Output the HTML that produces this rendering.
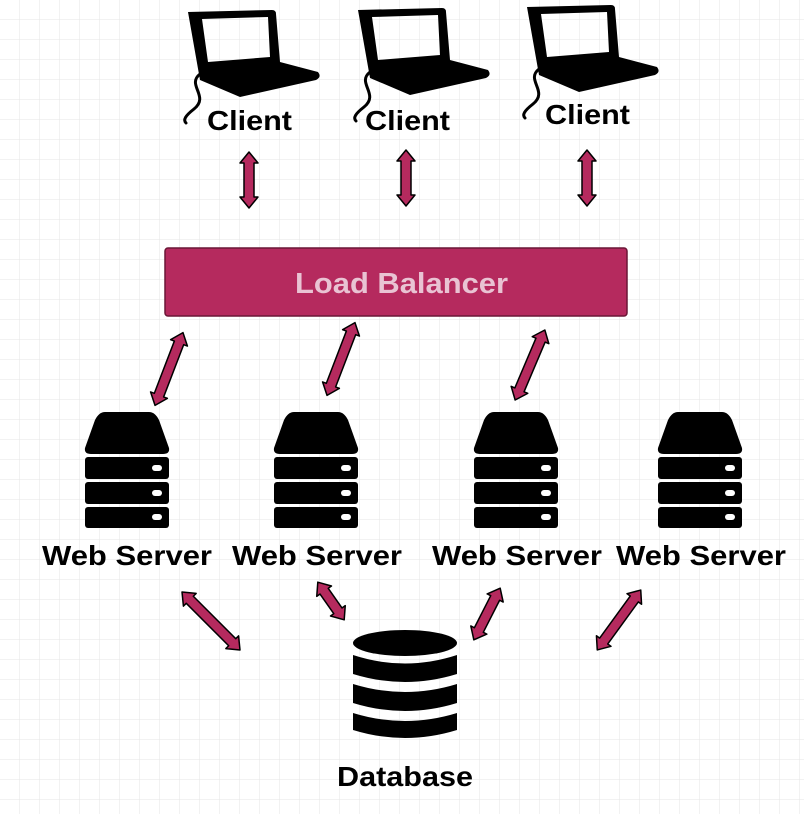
<!DOCTYPE html>
<html><head><meta charset="utf-8"><style>
html,body{margin:0;padding:0;background:#fff}
svg{display:block}
text{font-family:"Liberation Sans",sans-serif;font-weight:bold}
</style></head><body>
<svg width="804" height="814" viewBox="0 0 804 814" xmlns="http://www.w3.org/2000/svg">
<defs>
<pattern id="g" width="20" height="20" patternUnits="userSpaceOnUse">
<path d="M20 0V20M0 20H20" stroke="#e6e6e6" stroke-width="1" fill="none"/>
</pattern>
<g id="lap">
<path fill-rule="evenodd" fill="#000" d="M0,2 L84,0 Q88,0 88,4 L92,52 L130,62 Q134,67 128,70 L52,87 L12,70 Z M14,9 L80,7 L82,47 L20,52 Z"/>
<path d="M12,64 C-2,75 22,86 6,99 C-3,106 -5,110 -2,113" stroke="#000" stroke-width="3" fill="none" stroke-linecap="round"/>
</g>
<g id="srv">
<path fill="#000" d="M20,0 L64,0 Q70,0 74,8 L84,36 Q85,42 78,42 L6,42 Q-1,42 0,36 L10,8 Q14,0 20,0Z"/>
<rect x="0" y="45" width="84" height="22" rx="3" fill="#000"/>
<rect x="0" y="70" width="84" height="22" rx="3" fill="#000"/>
<rect x="0" y="95" width="84" height="21" rx="3" fill="#000"/>
<rect x="67" y="53" width="10" height="6" rx="3" fill="#fff"/>
<rect x="67" y="78" width="10" height="6" rx="3" fill="#fff"/>
<rect x="67" y="102" width="10" height="6" rx="3" fill="#fff"/>
</g>
</defs>
<rect width="804" height="814" fill="url(#g)"/>

<use href="#lap" x="188" y="10"/>
<use href="#lap" x="358" y="8"/>
<use href="#lap" x="527" y="5"/>
<text x="207" y="130" font-size="28" textLength="85" lengthAdjust="spacingAndGlyphs">Client</text>
<text x="365" y="130" font-size="28" textLength="85" lengthAdjust="spacingAndGlyphs">Client</text>
<text x="545" y="124" font-size="28" textLength="85" lengthAdjust="spacingAndGlyphs">Client</text>

<g fill="#b52a5e" stroke="#000" stroke-width="1.5" stroke-linejoin="round">
<path transform="translate(249,180) rotate(90)" d="M-28,0 L-17,-9 L-17,-5 L17,-5 L17,-9 L28,0 L17,9 L17,5 L-17,5 L-17,9Z"/>
<path transform="translate(406,178) rotate(90)" d="M-28,0 L-17,-9 L-17,-5 L17,-5 L17,-9 L28,0 L17,9 L17,5 L-17,5 L-17,9Z"/>
<path transform="translate(587,178) rotate(90)" d="M-28,0 L-17,-9 L-17,-5 L17,-5 L17,-9 L28,0 L17,9 L17,5 L-17,5 L-17,9Z"/>
<path transform="translate(169,369) rotate(111)" d="M-39,0 L-28,-9 L-28,-5 L28,-5 L28,-9 L39,0 L28,9 L28,5 L-28,5 L-28,9Z"/>
<path transform="translate(341,359) rotate(111)" d="M-39,0 L-28,-9 L-28,-5 L28,-5 L28,-9 L39,0 L28,9 L28,5 L-28,5 L-28,9Z"/>
<path transform="translate(530,365) rotate(113)" d="M-38,0 L-27,-9 L-27,-5 L27,-5 L27,-9 L38,0 L27,9 L27,5 L-27,5 L-27,9Z"/>
<path transform="translate(211,621) rotate(45)" d="M-41,0 L-30,-9 L-30,-5 L30,-5 L30,-9 L41,0 L30,9 L30,5 L-30,5 L-30,9Z"/>
<path transform="translate(331,601) rotate(55)" d="M-23,0 L-12,-9 L-12,-5 L12,-5 L12,-9 L23,0 L12,9 L12,5 L-12,5 L-12,9Z"/>
<path transform="translate(487,614) rotate(117)" d="M-29,0 L-18,-9 L-18,-5 L18,-5 L18,-9 L29,0 L18,9 L18,5 L-18,5 L-18,9Z"/>
<path transform="translate(619,620) rotate(126)" d="M-37,0 L-26,-9 L-26,-5 L26,-5 L26,-9 L37,0 L26,9 L26,5 L-26,5 L-26,9Z"/>
</g>

<rect x="165" y="248" width="462" height="68" rx="3" fill="#b52a5e" stroke="#6a1636" stroke-width="1.5"/>
<text x="295" y="293" font-size="29" fill="#e9c3d3" textLength="213" lengthAdjust="spacingAndGlyphs">Load Balancer</text>

<use href="#srv" x="85" y="412"/>
<use href="#srv" x="274" y="412"/>
<use href="#srv" x="474" y="412"/>
<use href="#srv" x="658" y="412"/>
<text x="42" y="565" font-size="28" textLength="170" lengthAdjust="spacingAndGlyphs">Web Server</text>
<text x="232" y="565" font-size="28" textLength="170" lengthAdjust="spacingAndGlyphs">Web Server</text>
<text x="432" y="565" font-size="28" textLength="170" lengthAdjust="spacingAndGlyphs">Web Server</text>
<text x="616" y="565" font-size="28" textLength="170" lengthAdjust="spacingAndGlyphs">Web Server</text>

<g fill="#000">
<ellipse cx="405" cy="643" rx="52" ry="13"/>
<path d="M353,655 Q405,672 457,655 L457,674 Q405,690 353,674Z"/>
<path d="M353,684 Q405,700 457,684 L457,703 Q405,719 353,703Z"/>
<path d="M353,713 Q405,729 457,713 L457,730 Q405,746 353,730Z"/>
</g>
<text x="337" y="786" font-size="28" textLength="136" lengthAdjust="spacingAndGlyphs">Database</text>
</svg>
</body></html>
